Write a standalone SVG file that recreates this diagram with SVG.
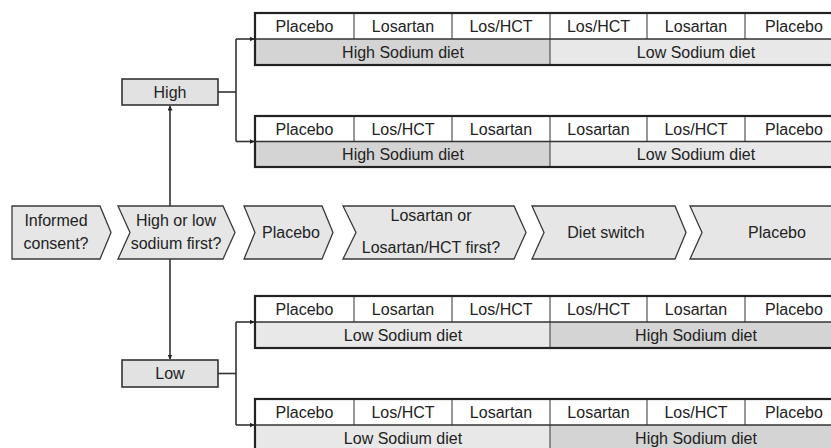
<svg xmlns="http://www.w3.org/2000/svg" width="831" height="448" viewBox="0 0 831 448">
<defs>
<style>
text{font-family:"Liberation Sans",Arial,sans-serif;font-size:16px;fill:#222;text-anchor:middle}
.chev{fill:#e6e6e6;stroke:#3a3a3a;stroke-width:1.3}
.box{fill:#e2e2e2;stroke:#333;stroke-width:1.6}
.cell{fill:#fff}
.hi{fill:#d4d4d4}
.lo{fill:#e8e8e8}
.div{stroke:#555;stroke-width:1.2}
.outer{fill:none;stroke:#222;stroke-width:2.2}
.rowdiv{stroke:#333;stroke-width:1.6}
.con{fill:none;stroke:#333;stroke-width:1.6}
</style>
<marker id="ah" viewBox="0 0 10 10" refX="9" refY="5" markerWidth="5" markerHeight="5" orient="auto" markerUnits="userSpaceOnUse"><path d="M0,0 L10,5 L0,10 Z" fill="#222"/></marker>
</defs>

<g id="connectors">
<path class="con" d="M170,206 V106" marker-end="url(#ah)"/>
<path class="con" d="M170,259 V359" marker-end="url(#ah)"/>
<path class="con" d="M218,92 H236"/>
<path class="con" d="M236,39 V141.5"/>
<path class="con" d="M236,39 H254" marker-end="url(#ah)"/>
<path class="con" d="M236,141.5 H254" marker-end="url(#ah)"/>
<path class="con" d="M218,373.5 H236"/>
<path class="con" d="M236,322 V425"/>
<path class="con" d="M236,322 H254" marker-end="url(#ah)"/>
<path class="con" d="M236,425 H254" marker-end="url(#ah)"/>
</g>

<g id="chev1"><path class="chev" d="M12,206 L100,206 L111,232.5 L100,259 L12,259 Z"/><text x="56" y="226">Informed</text><text x="56" y="249">consent?</text></g>
<g id="chev2"><path class="chev" d="M118,206 L223,206 L235,232.5 L223,259 L118,259 L130,232.5 Z"/><text x="176" y="226">High or low</text><text x="176" y="249">sodium first?</text></g>
<g id="chev3"><path class="chev" d="M244,206 L322,206 L333,232.5 L322,259 L244,259 L255,232.5 Z"/><text x="291" y="238">Placebo</text></g>
<g id="chev4"><path class="chev" d="M343,206 L514,206 L526,232.5 L514,259 L343,259 L356,232.5 Z"/><text x="431" y="221">Losartan or</text><text x="431" y="253">Losartan/HCT first?</text></g>
<g id="chev5"><path class="chev" d="M532,206 L675,206 L686,232.5 L675,259 L532,259 L544,232.5 Z"/><text x="606" y="238">Diet switch</text></g>
<g id="chev6"><path class="chev" d="M690,206 L836,206 L836,259 L690,259 L702,232.5 Z"/><text x="777" y="238">Placebo</text></g>

<g id="high"><rect class="box" x="122" y="79" width="96" height="26"/><text x="170" y="98">High</text></g>
<g id="low"><rect class="box" x="122" y="360" width="96" height="27"/><text x="170" y="379">Low</text></g>

<g id="table1">
<rect class="cell" x="255" y="13" width="588" height="26"/>
<rect class="hi" x="255" y="39" width="295" height="26"/>
<rect class="lo" x="550" y="39" width="293" height="26"/>
<path class="div" d="M354,13V39M452,13V39M550,13V65M647,13V39M745,13V39"/>
<path class="rowdiv" d="M255,39H843"/>
<rect class="outer" x="255" y="13" width="588" height="52"/>
<text x="304.5" y="31.5">Placebo</text><text x="403" y="31.5">Losartan</text><text x="501" y="31.5">Los/HCT</text><text x="598.5" y="31.5">Los/HCT</text><text x="696" y="31.5">Losartan</text><text x="794" y="31.5">Placebo</text>
<text x="403" y="57.5">High Sodium diet</text><text x="696" y="57.5">Low Sodium diet</text>
</g>

<g id="table2">
<rect class="cell" x="255" y="116" width="588" height="25.5"/>
<rect class="hi" x="255" y="141.5" width="295" height="25.5"/>
<rect class="lo" x="550" y="141.5" width="293" height="25.5"/>
<path class="div" d="M354,116V141.5M452,116V141.5M550,116V167M647,116V141.5M745,116V141.5"/>
<path class="rowdiv" d="M255,141.5H843"/>
<rect class="outer" x="255" y="116" width="588" height="51"/>
<text x="304.5" y="134.5">Placebo</text><text x="403" y="134.5">Los/HCT</text><text x="501" y="134.5">Losartan</text><text x="598.5" y="134.5">Losartan</text><text x="696" y="134.5">Los/HCT</text><text x="794" y="134.5">Placebo</text>
<text x="403" y="160">High Sodium diet</text><text x="696" y="160">Low Sodium diet</text>
</g>

<g id="table3">
<rect class="cell" x="255" y="296" width="588" height="26"/>
<rect class="lo" x="255" y="322" width="295" height="26"/>
<rect class="hi" x="550" y="322" width="293" height="26"/>
<path class="div" d="M354,296V322M452,296V322M550,296V348M647,296V322M745,296V322"/>
<path class="rowdiv" d="M255,322H843"/>
<rect class="outer" x="255" y="296" width="588" height="52"/>
<text x="304.5" y="314.5">Placebo</text><text x="403" y="314.5">Losartan</text><text x="501" y="314.5">Los/HCT</text><text x="598.5" y="314.5">Los/HCT</text><text x="696" y="314.5">Losartan</text><text x="794" y="314.5">Placebo</text>
<text x="403" y="340.5">Low Sodium diet</text><text x="696" y="340.5">High Sodium diet</text>
</g>

<g id="table4">
<rect class="cell" x="255" y="399" width="588" height="26"/>
<rect class="lo" x="255" y="425" width="295" height="26"/>
<rect class="hi" x="550" y="425" width="293" height="26"/>
<path class="div" d="M354,399V425M452,399V425M550,399V451M647,399V425M745,399V425"/>
<path class="rowdiv" d="M255,425H843"/>
<rect class="outer" x="255" y="399" width="588" height="52"/>
<text x="304.5" y="417.5">Placebo</text><text x="403" y="417.5">Los/HCT</text><text x="501" y="417.5">Losartan</text><text x="598.5" y="417.5">Losartan</text><text x="696" y="417.5">Los/HCT</text><text x="794" y="417.5">Placebo</text>
<text x="403" y="443.5">Low Sodium diet</text><text x="696" y="443.5">High Sodium diet</text>
</g>
</svg>
